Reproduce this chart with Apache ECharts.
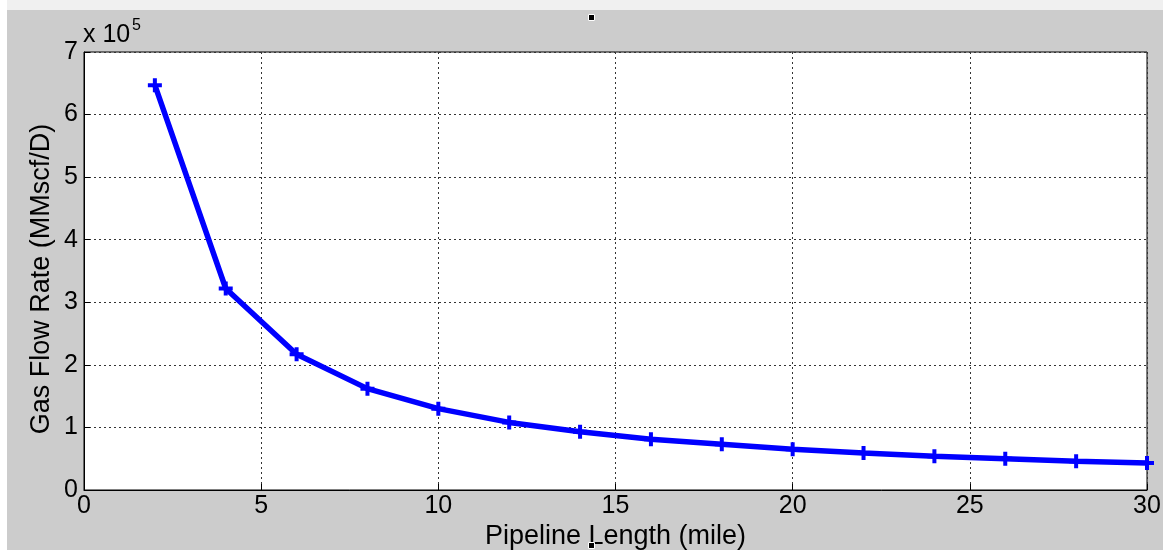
<!DOCTYPE html>
<html><head><meta charset="utf-8">
<script src="https://cdn.jsdelivr.net/npm/echarts@6/dist/echarts.min.js"></script>
<style>html,body{margin:0;padding:0;background:#fff}#c{width:1163px;height:550px}</style>
</head><body><div id="c"></div>
<script>
const lengths = [2, 4, 6, 8, 10, 12, 14, 16, 18, 20, 22, 24, 26, 28, 30];
const flowRates = [647000, 322000, 217000, 162000, 130000, 108000, 93000, 81000, 73000, 65000, 59000, 54000, 50000, 46000, 43000];
const xTitle = 'Pipeline Length (mile)';
const yTitle = 'Gas Flow Rate (MMscf/D)';
const FONT = '"Liberation Sans", Arial, sans-serif';

const chart = echarts.init(document.getElementById('c'));
const plus = 'path://M-2,-7 L2,-7 L2,-2 L7,-2 L7,2 L2,2 L2,7 L-2,7 L-2,2 L-7,2 L-7,-2 L-2,-2 Z';
const gridLine = {show: true, lineStyle: {color: '#333', type: [2, 3], width: 1}};
chart.setOption({
  animation: false,
  backgroundColor: '#cccccc',
  graphic: [
    {type: 'rect', left: 0, top: 0, shape: {width: 1163, height: 10}, style: {fill: '#f0f0f0'}, z: -1},
    {type: 'rect', left: 0, top: 0, shape: {width: 7, height: 550}, style: {fill: '#ffffff'}, z: -1},
    {type: 'rect', left: 588, top: 14, shape: {width: 6, height: 6}, style: {fill: '#000', stroke: '#fff', lineWidth: 1}},
    {type: 'rect', left: 588, top: 542, shape: {width: 6, height: 6}, style: {fill: '#000', stroke: '#fff', lineWidth: 1}, z: 10},
    {type: 'text', left: 83, top: 23, style: {text: 'x 10', font: '25px ' + FONT, fill: '#000'}},
    {type: 'text', left: 132, top: 18, style: {text: '5', font: '16px ' + FONT, fill: '#000'}},
    {type: 'text', x: 42, y: 279, rotation: Math.PI / 2,
     style: {text: yTitle, font: '27px ' + FONT, fill: '#000', align: 'center', verticalAlign: 'middle'}}
  ],
  grid: {left: 84, right: 16, top: 52, bottom: 60, outerBoundsMode: 'none', show: true, backgroundColor: '#fff', borderColor: '#000', borderWidth: 1},
  xAxis: {
    type: 'value', min: 0, max: 30, interval: 5,
    name: xTitle, nameLocation: 'middle', nameGap: 33, nameMoveOverlap: false,
    nameTextStyle: {fontFamily: FONT, fontSize: 27, color: '#000'},
    axisLine: {show: true, lineStyle: {color: '#000', width: 1}},
    axisTick: {show: true, inside: true, length: 6, lineStyle: {color: '#000'}},
    axisLabel: {fontFamily: FONT, fontSize: 25, color: '#000', margin: 4},
    splitLine: gridLine
  },
  yAxis: {
    type: 'value', min: 0, max: 700000, interval: 100000,
    axisLine: {show: true, lineStyle: {color: '#000', width: 1}},
    axisTick: {show: true, inside: true, length: 6, lineStyle: {color: '#000'}},
    axisLabel: {fontFamily: FONT, fontSize: 25, color: '#000', margin: 6, formatter: v => String(v / 100000)},
    splitLine: gridLine
  },
  series: [{
    type: 'line',
    data: lengths.map((x, i) => [x, flowRates[i]]),
    lineStyle: {color: '#0000ff', width: 5.5},
    itemStyle: {color: '#0000ff'},
    symbol: plus, symbolSize: 14, showSymbol: true,
    clip: false
  }]
});
</script></body></html>
